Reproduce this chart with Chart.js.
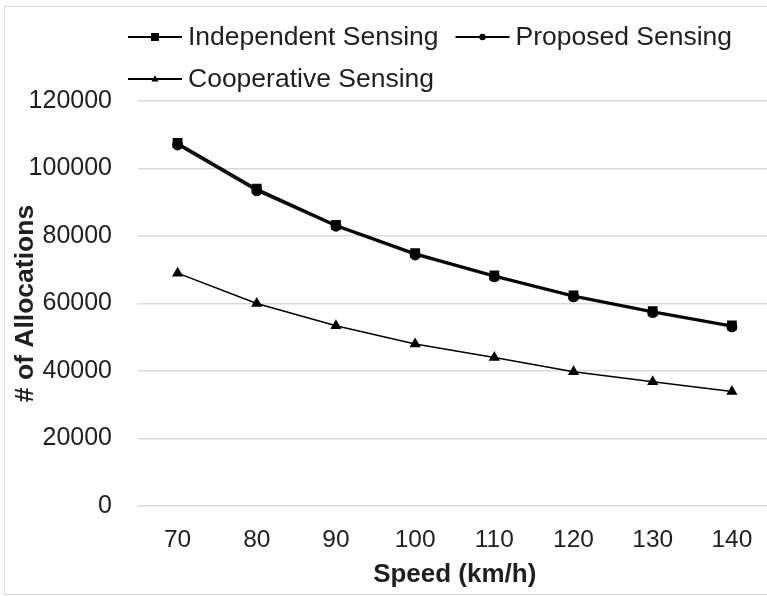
<!DOCTYPE html>
<html>
<head>
<meta charset="utf-8">
<script src="https://cdn.jsdelivr.net/npm/chart.js@4/dist/chart.umd.min.js"></script>
<style>
  html, body { margin: 0; padding: 0; background: #fff; overflow: hidden; }
  #frame { position: absolute; left: 4px; top: 6px; width: 800px; height: 587px; border: 1px solid #d9d9d9; }
  #chart { position: absolute; left: 0; top: 0; }
</style>
</head>
<body>
<div id="frame"></div>
<canvas id="chart" width="779" height="596" style="width:779px;height:596px"></canvas>
<script>
'use strict';

// speeds on the x axis (km/h)
const speeds = ['70', '80', '90', '100', '110', '120', '130', '140'];

// number of allocations
const independent = [107600, 94000, 83300, 74900, 68300, 62400, 57700, 53500];
const proposed = [107000, 93400, 82900, 74400, 67900, 62000, 57300, 53100];
const cooperative = [69000, 60000, 53400, 48000, 44000, 39800, 36800, 33900];

const yTicks = [0, 20000, 40000, 60000, 80000, 100000, 120000];

const FONT = "'Liberation Sans', Arial, sans-serif";
const TEXT = '#1f1f1f';

function marker(ctx, style, x, y, r) {
    ctx.beginPath();
    if (style === 'rect') {
        ctx.rect(x - r, y - r, r * 2, r * 2);
    } else if (style === 'triangle') {
        ctx.moveTo(x, y - r * 1.1);
        ctx.lineTo(x + r, y + r * 0.7);
        ctx.lineTo(x - r, y + r * 0.7);
        ctx.closePath();
    } else {
        ctx.arc(x, y, r, 0, Math.PI * 2);
    }
    ctx.fill();
}

// excel style legend: line with the marker in the middle, wrapped left to right
const legendPlugin = {
    id: 'excelLegend',
    afterDraw(chart) {
        const ctx = chart.ctx;
        let x = 128, y = 37;
        ctx.save();
        ctx.font = '26.5px ' + FONT;
        ctx.textBaseline = 'middle';
        chart.data.datasets.forEach(ds => {
            const w = 60 + ctx.measureText(ds.label).width;
            if (x + w > 750) {
                x = 128;
                y += 42;
            }
            ctx.strokeStyle = '#000';
            ctx.fillStyle = '#000';
            ctx.lineWidth = 1.8;
            ctx.beginPath();
            ctx.moveTo(x, y);
            ctx.lineTo(x + 54, y);
            ctx.stroke();
            marker(ctx, ds.pointStyle, x + 27, y, ds.legendR);
            ctx.fillStyle = TEXT;
            ctx.fillText(ds.label, x + 60, y + 1);
            x += w + 17;
        });
        ctx.restore();
    }
};

new Chart(document.getElementById('chart'), {
    type: 'line',
    data: {
        labels: speeds,
        datasets: [
            {
                label: 'Independent Sensing',
                data: independent,
                borderColor: '#000',
                backgroundColor: '#000',
                borderWidth: 2,
                pointStyle: 'rect',
                pointRadius: 5.5,
                legendR: 4,
                order: 1
            },
            {
                label: 'Proposed Sensing',
                data: proposed,
                borderColor: '#111',
                backgroundColor: '#111',
                borderWidth: 2,
                pointStyle: 'circle',
                pointRadius: 4.5,
                legendR: 3.2,
                order: 2
            },
            {
                label: 'Cooperative Sensing',
                data: cooperative,
                borderColor: '#000',
                backgroundColor: '#000',
                borderWidth: 1.5,
                pointStyle: 'triangle',
                pointRadius: 5,
                legendR: 3.5,
                order: 3
            }
        ]
    },
    options: {
        responsive: false,
        animation: false,
        devicePixelRatio: 1,
        layout: { padding: { top: 101, left: 0, right: 0, bottom: 0 } },
        elements: {
            line: { tension: 0 },
            point: { borderWidth: 0, hoverRadius: 5 }
        },
        plugins: {
            legend: { display: false },
            tooltip: { enabled: false }
        },
        scales: {
            x: {
                offset: true,
                grid: { display: false, drawTicks: false },
                border: { display: false },
                ticks: { color: TEXT, font: { family: FONT, size: 24.5 }, padding: 20 },
                title: {
                    display: true,
                    text: 'Speed (km/h)',
                    color: TEXT,
                    font: { family: FONT, size: 26, weight: 'bold' },
                    padding: { top: 0, bottom: 6 }
                },
                afterFit(scale) { scale.height = 90; }
            },
            y: {
                min: 0,
                max: 120000,
                afterBuildTicks(scale) { scale.ticks = yTicks.map(v => ({ value: v })); },
                grid: { color: '#d9d9d9', lineWidth: 1.5, drawTicks: false },
                border: { display: false },
                ticks: {
                    color: TEXT,
                    font: { family: FONT, size: 25 },
                    padding: 26,
                    callback: v => String(v)
                },
                title: {
                    display: true,
                    text: '# of Allocations',
                    color: TEXT,
                    font: { family: FONT, size: 26.5, weight: 'bold' },
                    padding: { top: 10, bottom: 0 }
                },
                afterFit(scale) { scale.width = 138; }
            }
        }
    },
    plugins: [legendPlugin]
});
</script>
</body>
</html>
